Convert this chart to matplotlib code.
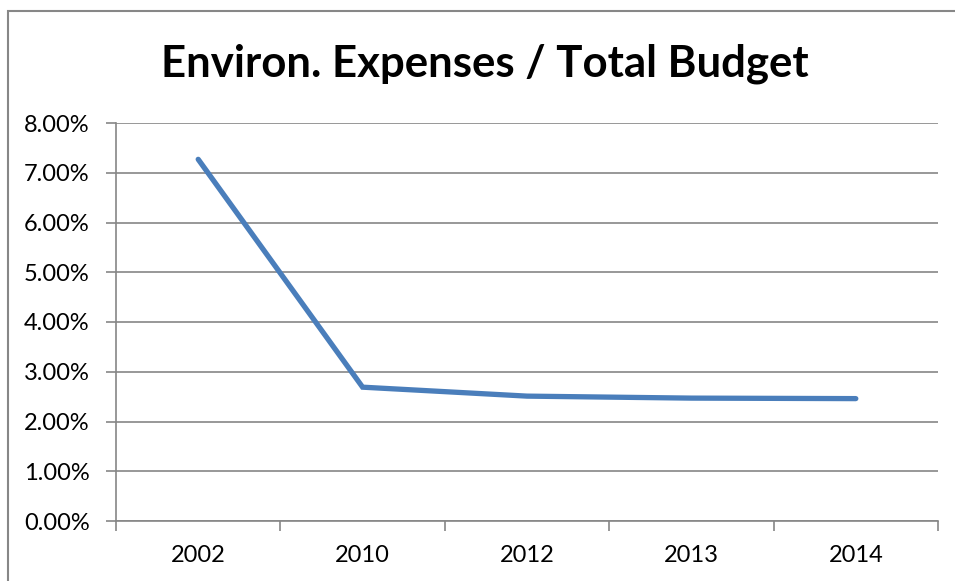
import matplotlib
matplotlib.use("Agg")
import matplotlib.pyplot as plt
from matplotlib.patches import Rectangle
from matplotlib.ticker import FuncFormatter, FixedLocator

years = ["2002", "2010", "2012", "2013", "2014"]
share = [7.27, 2.69, 2.51, 2.47, 2.46]  # environmental expenses as % of total budget
y_ticks = [0, 1, 2, 3, 4, 5, 6, 7, 8]

W, H = 955, 581
fig = plt.figure(figsize=(W / 100, H / 100), dpi=100)
fig.patch.set_facecolor("white")

# outer chart frame
fig.patches.append(Rectangle((7.5 / W, -0.05), 1.2, (H - 11) / H + 0.05,
                             transform=fig.transFigure, fill=False,
                             edgecolor="#878787", linewidth=1.5))

ax = fig.add_axes([116 / W, 1 - 521 / H, (938 - 116) / W, (521 - 123) / H])

xs = list(range(len(years)))
ax.plot(xs, share, color="#4A7EBB", linewidth=3.8, solid_capstyle="round",
        solid_joinstyle="miter", zorder=3)

ax.set_xlim(-0.5, len(years) - 0.5)
ax.set_ylim(0, 8)
ax.set_yticks(y_ticks)
ax.yaxis.set_major_formatter(FuncFormatter(lambda v, p: f"{v:.2f}%"))
ax.grid(axis="y", color="#868686", linewidth=1.2)
ax.set_axisbelow(True)

# category labels centred, tick marks at category boundaries
ax.set_xticks(xs)
ax.set_xticklabels(years)
ax.xaxis.set_minor_locator(FixedLocator([i - 0.5 for i in range(len(years) + 1)]))
ax.tick_params(axis="x", which="major", length=0, pad=17)
ax.tick_params(axis="x", which="minor", length=7, width=1.2, color="#868686", direction="out")
ax.tick_params(axis="y", length=7, width=1.2, color="#868686", direction="out", pad=12)

for lbl in ax.get_xticklabels() + ax.get_yticklabels():
    lbl.set_fontfamily("Lato")
    lbl.set_fontsize(17)
    lbl.set_color("black")

for side in ("top", "right"):
    ax.spines[side].set_visible(False)
ax.spines["left"].set_color("#868686")
ax.spines["bottom"].set_color("#868686")
ax.spines["left"].set_linewidth(1.2)
ax.spines["bottom"].set_linewidth(1.2)

fig.text(485 / W, 1 - 64 / H, "Environ. Expenses / Total Budget",
         ha="center", va="center", fontsize=31.5, fontweight="bold",
         fontfamily="Lato", color="black")

fig.savefig("out.png", dpi=100, facecolor="white")
